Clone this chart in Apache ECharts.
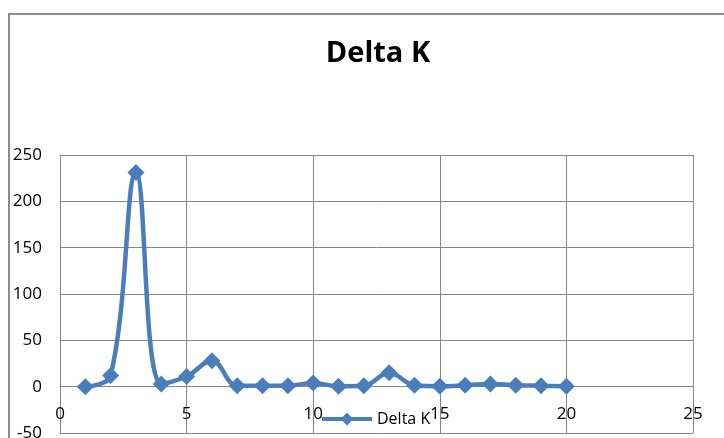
<!DOCTYPE html>
<html>
<head>
<meta charset="utf-8">
<script src="https://cdn.jsdelivr.net/npm/echarts@6/dist/echarts.min.js"></script>
<style>
html,body{margin:0;padding:0;background:#fff;}
#chart{width:724px;height:438px;}
</style>
</head>
<body>
<div id="chart"></div>
<script>
const seriesName = 'Delta K';
const xValues = [1,2,3,4,5,6,7,8,9,10,11,12,13,14,15,16,17,18,19,20];
const deltaK = [0,12,231,3,11,28,1,1,1,4,0.5,1,15,1.5,0.5,1.5,3,1.5,1,0.5];
const yTicks = {min:-50, max:250, interval:50};
const xTicks = {min:0, max:25, interval:5};

const gridTop = 155, gridBottom = 5, chartH = 438;
const plotH = chartH - gridTop - gridBottom;
// shift the x axis up so it sits on y = 0
const zeroOffset = -plotH * (0 - yTicks.min) / (yTicks.max - yTicks.min);

const chart = echarts.init(document.getElementById('chart'));
const font = 'Open Sans';
chart.setOption({
  backgroundColor:'#fff',
  animation:false,
  title:{
    text:'Delta K', left:373, textAlign:'center', top:34,
    textStyle:{fontFamily:font, fontWeight:'bold', fontSize:29, color:'#000'}
  },
  graphic:[{
    type:'polyline', silent:true,
    shape:{points:[[9,438],[9,14],[724,14]]},
    style:{stroke:'#8c8c8c', lineWidth:2, fill:null}
  }],
  legend:{
    left:315, top:406, itemWidth:50, itemHeight:16, itemGap:5,
    lineStyle:{width:4},
    textStyle:{fontFamily:font, fontSize:16, color:'#000'},
    data:[seriesName]
  },
  grid:{left:60, right:31, top:gridTop, bottom:gridBottom, containLabel:false, outerBoundsMode:'none'},
  xAxis:{
    type:'value', min:xTicks.min, max:xTicks.max, interval:xTicks.interval,
    position:'bottom', offset:zeroOffset,
    axisLine:{onZero:false, lineStyle:{color:'#868686', width:1}},
    axisTick:{show:false},
    axisLabel:{margin:19, fontFamily:font, fontSize:17, color:'#000'},
    splitLine:{show:true, lineStyle:{color:'#868686', width:1}}
  },
  yAxis:{
    type:'value', min:yTicks.min, max:yTicks.max, interval:yTicks.interval,
    axisLine:{show:true, lineStyle:{color:'#868686', width:1}},
    axisTick:{show:false},
    axisLabel:{margin:18, fontFamily:font, fontSize:17, color:'#000'},
    splitLine:{show:true, lineStyle:{color:'#868686', width:1}}
  },
  series:[{
    name:seriesName, type:'line', smooth:0.4,
    data:xValues.map((x,i)=>[x, deltaK[i]]),
    symbol:'diamond', symbolSize:17,
    lineStyle:{color:'#4A7EBB', width:4.5},
    itemStyle:{color:'#4A7EBB'}
  }]
});
</script>
</body>
</html>
